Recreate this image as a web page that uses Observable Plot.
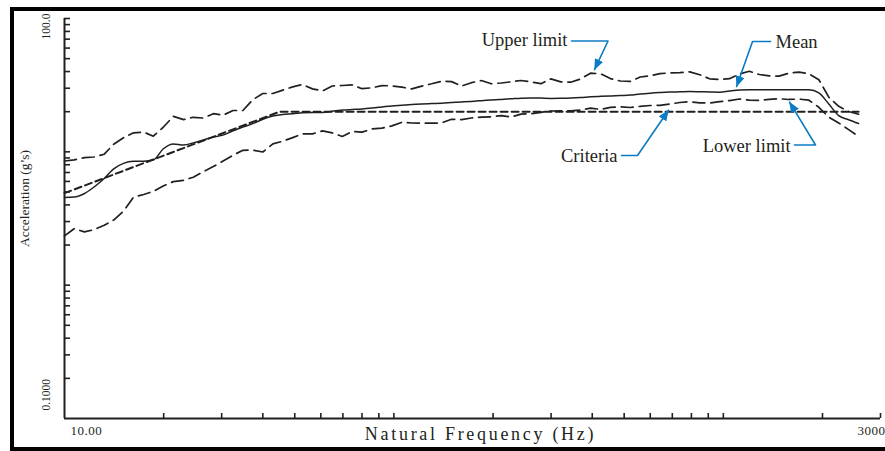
<!DOCTYPE html>
<html><head><meta charset="utf-8">
<script src="https://cdn.jsdelivr.net/npm/d3@7"></script>
<script src="https://cdn.jsdelivr.net/npm/@observablehq/plot@0.6"></script>
<style>
html,body{margin:0;padding:0;background:#fff;overflow:hidden;width:885px;height:451px;}
#wrap{position:relative;width:885px;height:451px;}
#frame{position:absolute;left:10px;top:7px;width:900px;height:444px;border:4px solid #000;box-sizing:border-box;pointer-events:none;}
</style></head><body><div id="wrap"><div id="chart"></div><div id="frame"></div></div>
<script>
// ---- data ----
const freqHz = [10, 10.7, 11.5, 12.3, 13.2, 14.1, 15.1, 16.2, 17.4, 18.6, 20, 21.4, 23, 24.6, 26.4, 28.3, 30.3, 32.5, 34.8, 37.3, 40, 42.9, 46, 49.3, 52.8, 56.6, 60.7, 65, 69.7, 74.7, 80, 85.8, 92, 98.6, 105.7, 113.3, 121.5, 130.2, 139.6, 149.6, 160.4, 171.9, 184.3, 197.5, 211.7, 226.9, 243.2, 260.7, 279.4, 299.5, 321, 344, 368.8, 395.3, 423.7, 454.1, 486.7, 521.7, 559.2, 599.4, 642.4, 688.6, 738, 791, 847.9, 908.8, 974, 1044, 1119, 1200, 1286, 1378, 1477, 1583, 1697, 1819, 1950, 2090, 2240, 2401, 2574];
const upperLimit = [8.54, 8.70, 9.05, 9.15, 9.60, 11.39, 12.74, 13.89, 14.06, 13.10,
  15.41, 18.44, 17.45, 18.16, 17.91, 19.32, 18.83, 20.42, 20.42, 24.60,
  27.38, 27.38, 29.04, 30.69, 31.99, 29.65, 28.64, 31.18, 31.45, 31.77,
  29.76, 30.22, 31.39, 31.23, 30.53, 29.65, 31.12, 32.38, 33.86, 33.63,
  31.12, 33.00, 34.28, 32.38, 32.83, 33.51, 34.28, 33.46, 32.43, 35.24,
  33.51, 33.28, 35.18, 38.89, 38.49, 35.43, 33.98, 33.74, 36.41, 37.18,
  38.62, 39.08, 39.22, 39.77, 37.89, 35.30, 34.87, 35.36, 38.35, 40.18,
  38.02, 37.11, 36.98, 38.95, 39.56, 38.49, 34.75, 25.69, 21.95, 20.07, 19.15];
const meanG = [4.55, 4.58, 4.87, 5.45, 6.31, 7.45, 8.19, 8.49, 8.51, 8.69,
  10.59, 11.45, 11.25, 11.67, 12.27, 12.94, 13.35, 14.40, 15.33, 16.28,
  17.57, 18.57, 19.09, 19.29, 19.63, 19.72, 19.72, 20.17, 20.56, 20.77,
  20.95, 21.28, 21.69, 22.11, 22.38, 22.65, 22.85, 23.01, 23.17, 23.41,
  23.65, 23.90, 24.19, 24.48, 24.74, 24.99, 25.25, 25.38, 25.29, 25.16,
  25.21, 25.33, 25.55, 25.86, 26.09, 26.27, 26.45, 26.64, 27.15, 27.53,
  27.82, 28.05, 28.20, 28.35, 28.25, 28.10, 28.00, 28.59, 29.09, 29.24,
  29.19, 29.19, 29.19, 29.19, 29.19, 29.19, 27.67, 22.85, 18.70, 17.42, 16.31];
const lowerLimit = [2.34, 2.65, 2.51, 2.61, 2.81, 3.08, 3.59, 4.57, 4.79, 5.05,
  5.56, 5.98, 6.12, 6.45, 7.11, 7.75, 8.54, 9.44, 10.27, 10.30,
  9.97, 11.47, 12.02, 12.79, 13.65, 13.65, 14.35, 13.87, 13.03, 14.21,
  14.04, 14.84, 15.04, 15.65, 16.66, 16.46, 16.40, 16.40, 16.48, 17.54,
  17.42, 17.94, 18.19, 18.31, 18.70, 18.25, 19.19, 19.32, 19.79, 20.24,
  20.28, 20.28, 20.56, 21.25, 20.81, 21.54, 21.73, 21.50, 21.92, 22.26,
  22.34, 22.85, 23.44, 23.77, 23.32, 23.20, 23.81, 24.23, 24.90, 24.43,
  24.27, 24.74, 24.99, 24.70, 24.87, 24.39, 21.58, 18.19, 16.46, 14.68, 13.05];
const criteriaHz = [10, 45, 2574];
const criteriaG = [4.9, 20, 20];

const xTicks = [20, 30, 40, 50, 60, 70, 80, 90, 100, 200, 300, 400, 500, 600, 700, 800, 900, 1000, 2000, 3000];
const yTicks = [0.2, 0.3, 0.4, 0.5, 0.6, 0.7, 0.8, 0.9, 1, 2, 3, 4, 5, 6, 7, 8, 9, 10, 20, 30, 40, 50, 60, 70, 80, 90, 100];
const xMinLabel = "10.00", xMaxLabel = "3000";
const yMaxLabel = "100.0", yMinLabel = "0.1000";
const xTitle = "Natural Frequency (Hz)";
const yTitle = "Acceleration (g’s)";

// annotations (data coordinates: Hz, g)
const annoLabels = ["Upper limit", "Mean", "Criteria", "Lower limit"];
const annoTextHz = [336.5, 1440, 477.3, 1600];
const annoTextG = [68.4, 66.6, 9.26, 11.0];
const annoAnchor = ["end", "start", "end", "end"];
const leaderHz = [[346, 446.7, 406.4], [1391, 1226.5, 1097], [491, 548.9, 681.6], [1645, 1905, 1588.6]];
const leaderG = [[67.8, 67.8, 41.4], [67.2, 67.2, 30.9], [9.39, 9.39, 20.5], [11.25, 11.25, 23.6]];
const yTitleAt = {f: 10, a: 4.47};

// ---- build ----
const ink = "#231f20";
const blue = "#0b7cc3";
const rowsOf = (hz, g) => hz.map((f, i) => ({f, a: g[i]}));
const annoRows = annoLabels.map((t, i) => ({t, f: annoTextHz[i], a: annoTextG[i], anchor: annoAnchor[i]}));
const leaderRows = annoLabels.flatMap((name, i) => leaderHz[i].map((f, j) => ({name, f, a: leaderG[i][j]})));

const chart = Plot.plot({
  width: 885, height: 451,
  marginLeft: 64, marginRight: 5, marginTop: 18, marginBottom: 33,
  x: {type: "log", domain: [10, 3000]},
  y: {type: "log", domain: [0.1, 100]},
  style: {fontFamily: "'Liberation Serif', 'Times New Roman', serif", color: ink, background: "transparent", overflow: "visible"},
  marks: [
    Plot.axisX({ticks: xTicks, tickSize: -5, tickFormat: () => "", strokeWidth: 1.6, label: null, stroke: ink}),
    Plot.axisY({ticks: yTicks, tickSize: -6, tickFormat: () => "", strokeWidth: 1.6, label: null, stroke: ink}),
    Plot.ruleX([10], {stroke: ink, strokeWidth: 2}),
    Plot.ruleY([0.1], {stroke: ink, strokeWidth: 2}),
    Plot.line(rowsOf(criteriaHz, criteriaG), {x: "f", y: "a", stroke: ink, strokeWidth: 2, strokeDasharray: "7,4"}),
    Plot.line(rowsOf(freqHz, upperLimit), {x: "f", y: "a", stroke: ink, strokeWidth: 1.7, strokeDasharray: "12,6"}),
    Plot.line(rowsOf(freqHz, lowerLimit), {x: "f", y: "a", stroke: ink, strokeWidth: 1.7, strokeDasharray: "12,6"}),
    Plot.line(rowsOf(freqHz, meanG), {x: "f", y: "a", stroke: ink, strokeWidth: 1.5, curve: "monotone-x"}),
    // tick labels
    Plot.text([{f: 10, a: 0.1, t: xMinLabel}], {x: "f", y: "a", text: "t", textAnchor: "start", dx: 6, dy: 12, fontSize: 13, fill: ink}),
    Plot.text([{f: 3000, a: 0.1, t: xMaxLabel}], {x: "f", y: "a", text: "t", textAnchor: "end", dx: 5, dy: 12, fontSize: 13, fill: ink}),
    Plot.text([{f: 10, a: 100, t: yMaxLabel}], {x: "f", y: "a", text: "t", textAnchor: "end", rotate: -90, dx: -18, dy: -5, fontSize: 11.5, fill: ink}),
    Plot.text([{f: 10, a: 0.1, t: yMinLabel}], {x: "f", y: "a", text: "t", textAnchor: "start", rotate: -90, dx: -18, dy: -8, fontSize: 11.5, fill: ink}),
    // axis titles
    Plot.text([xTitle], {frameAnchor: "bottom", dx: 8, dy: 21, fontSize: 18, fill: ink}),
    Plot.text([{...yTitleAt, t: yTitle}], {x: "f", y: "a", text: "t", rotate: -90, dx: -40, fontSize: 13.5, fill: ink}),
    // annotations
    Plot.line(leaderRows, {x: "f", y: "a", z: "name", stroke: blue, strokeWidth: 1.6}),
    Plot.text(annoRows.filter(d => d.anchor === "end"), {x: "f", y: "a", text: "t", textAnchor: "end", fontSize: 18.5, fill: ink}),
    Plot.text(annoRows.filter(d => d.anchor === "start"), {x: "f", y: "a", text: "t", textAnchor: "start", fontSize: 18.5, fill: ink})
  ]
});

// filled arrowheads on the leader lines
const ns = "http://www.w3.org/2000/svg";
const defs = document.createElementNS(ns, "defs");
const marker = document.createElementNS(ns, "marker");
marker.setAttribute("id", "ah");
marker.setAttribute("viewBox", "0 0 11 9");
marker.setAttribute("refX", "10.5");
marker.setAttribute("refY", "4.5");
marker.setAttribute("markerWidth", "11");
marker.setAttribute("markerHeight", "9");
marker.setAttribute("markerUnits", "userSpaceOnUse");
marker.setAttribute("orient", "auto");
const mp = document.createElementNS(ns, "path");
mp.setAttribute("d", "M0,0L11,4.5L0,9Z");
mp.setAttribute("fill", blue);
marker.appendChild(mp);
defs.appendChild(marker);
chart.prepend(defs);
chart.querySelectorAll("g").forEach(g => {
  if (g.getAttribute("stroke") === blue) g.querySelectorAll("path").forEach(p => p.setAttribute("marker-end", "url(#ah)"));
});
chart.querySelectorAll("text").forEach(t => {
  if (t.textContent === xTitle) t.style.letterSpacing = "2.7px";
  if (t.textContent === xMinLabel || t.textContent === xMaxLabel) t.style.letterSpacing = "0.5px";
});

document.getElementById("chart").appendChild(chart);
</script></body></html>
